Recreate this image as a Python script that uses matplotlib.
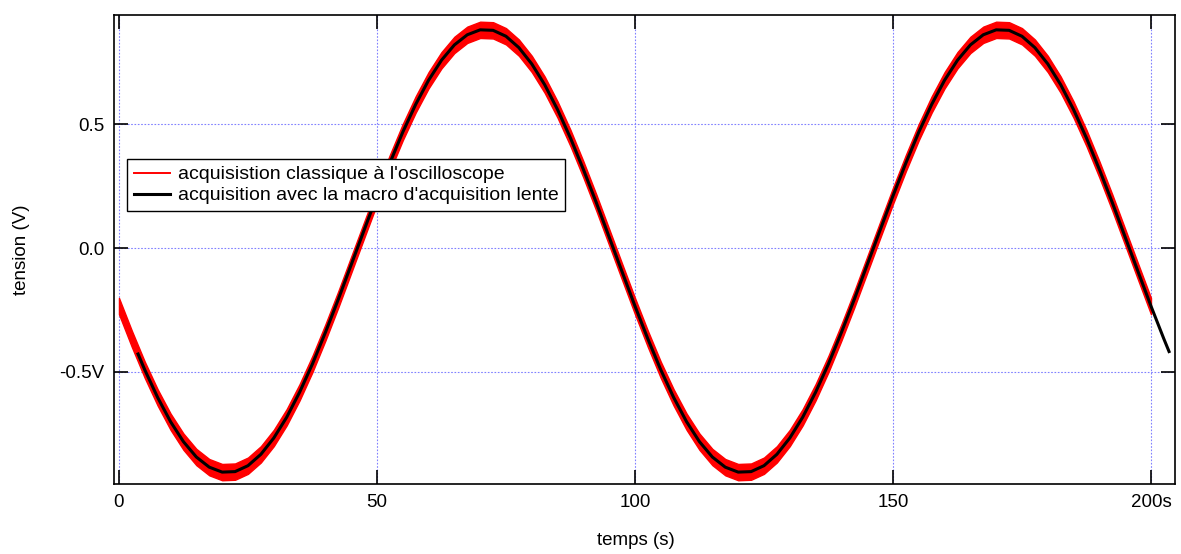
import numpy as np
import matplotlib
matplotlib.use("Agg")
import matplotlib.pyplot as plt

plt.rcParams['font.family'] = ['Liberation Sans', 'DejaVu Sans']

# oscilloscope record, one reading every 2.5 s from 0 to 200 s
t_scope = np.arange(0, 200.1, 2.5)
v_scope = [-0.235, -0.368, -0.493, -0.605, -0.703, -0.784, -0.846, -0.887, -0.907, -0.905,
           -0.881, -0.835, -0.769, -0.685, -0.584, -0.469, -0.342, -0.208, -0.068, 0.072,
           0.211, 0.344, 0.469, 0.581, 0.679, 0.760, 0.822, 0.863, 0.883, 0.881,
           0.857, 0.811, 0.745, 0.661, 0.560, 0.445, 0.318, 0.184, 0.044, -0.096,
           -0.235, -0.368, -0.493, -0.605, -0.703, -0.784, -0.846, -0.887, -0.907, -0.905,
           -0.881, -0.835, -0.769, -0.685, -0.584, -0.469, -0.342, -0.208, -0.068, 0.072,
           0.211, 0.344, 0.469, 0.581, 0.679, 0.760, 0.822, 0.863, 0.883, 0.881,
           0.857, 0.811, 0.745, 0.661, 0.560, 0.445, 0.318, 0.184, 0.044, -0.096,
           -0.235]
scope_noise = 0.033   # half height of the quantisation band

# slow acquisition macro
t_macro = [3.7] + list(np.arange(5, 202.6, 2.5)) + [203.5]
v_macro = [-0.429,
           -0.493, -0.605, -0.703, -0.784, -0.846, -0.887, -0.907, -0.905,
           -0.881, -0.835, -0.769, -0.685, -0.584, -0.469, -0.342, -0.208, -0.068, 0.072,
           0.211, 0.344, 0.469, 0.581, 0.679, 0.760, 0.822, 0.863, 0.883, 0.881,
           0.857, 0.811, 0.745, 0.661, 0.560, 0.445, 0.318, 0.184, 0.044, -0.096,
           -0.235, -0.368, -0.493, -0.605, -0.703, -0.784, -0.846, -0.887, -0.907, -0.905,
           -0.881, -0.835, -0.769, -0.685, -0.584, -0.469, -0.342, -0.208, -0.068, 0.072,
           0.211, 0.344, 0.469, 0.581, 0.679, 0.760, 0.822, 0.863, 0.883, 0.881,
           0.857, 0.811, 0.745, 0.661, 0.560, 0.445, 0.318, 0.184, 0.044, -0.096,
           -0.235, -0.368,
           -0.419]

x_ticks = [0, 50, 100, 150, 200]
x_labels = ["0", "50", "100", "150", "200s"]
y_ticks = [-0.5, 0.0, 0.5]
y_labels = ["-0.5V", "0.0", "0.5"]

fig = plt.figure(figsize=(11.81, 5.54), dpi=100)
ax = fig.add_axes([0.0965, 0.1264, 0.8984, 0.8465])

v_scope = np.array(v_scope)
ax.fill_between(t_scope, v_scope - scope_noise, v_scope + scope_noise,
                color='red', lw=1, zorder=2)
ax.plot([], [], color='red', lw=1.4, label="acquisistion classique à l'oscilloscope")
ax.plot(t_macro, v_macro, color='black', lw=2.2, zorder=3,
        label="acquisition avec la macro d'acquisition lente")

ax.set_xlim(-0.97, 204.65)
ax.set_ylim(-0.955, 0.943)
ax.set_xticks(x_ticks)
ax.set_xticklabels(x_labels)
ax.set_yticks(y_ticks)
ax.set_yticklabels(y_labels)

ax.grid(True, color='#8080ff', lw=0.8, linestyle=(0, (1.5, 1.5)))
ax.set_axisbelow(True)
for s in ax.spines.values():
    s.set_linewidth(1.2)
ax.tick_params(direction='in', length=10, width=1.2, labelsize=13.5, pad=7,
               top=True, right=True)

ax.set_xlabel("temps (s)", fontsize=13.5)
ax.set_ylabel("tension (V)", fontsize=13.5)
ax.xaxis.set_label_coords(0.492, -0.1215)
ax.yaxis.set_label_coords(-0.0867, 0.499)
ax.xaxis.label.set_va('center')
ax.yaxis.label.set_va('center')

leg = ax.legend(loc='upper left', bbox_to_anchor=(0.0123, 0.693), borderaxespad=0,
                fontsize=14, fancybox=False, framealpha=1, edgecolor='black',
                handlelength=1.85, handletextpad=0.4, borderpad=0.35, labelspacing=0.17)
leg.get_frame().set_linewidth(1.0)

fig.savefig("out.png", dpi=100)
